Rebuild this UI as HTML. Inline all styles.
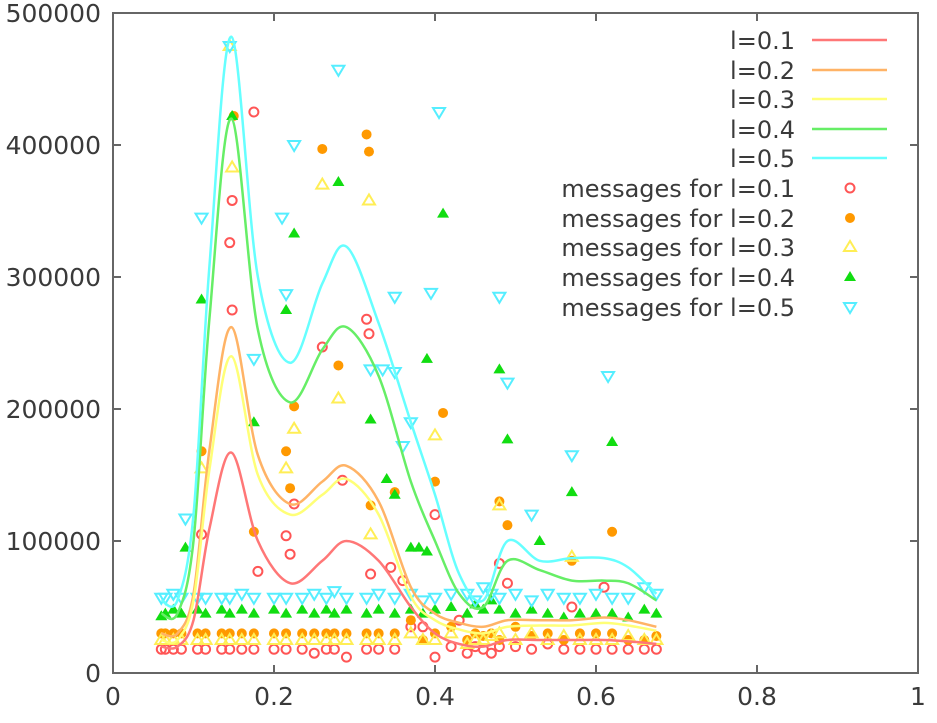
<!DOCTYPE html>
<html><head><meta charset="utf-8"><style>
body{margin:0;background:#fff}
svg{display:block;font-family:"DejaVu Sans","Liberation Sans",sans-serif}
</style></head><body>
<svg id="chart" width="937" height="723" viewBox="0 0 937 723"></svg>
<script>
const xTicks=[0,0.2,0.4,0.6,0.8,1];
const xTickLabels=["0","0.2","0.4","0.6","0.8","1"];
const yTicks=[0,100000,200000,300000,400000,500000];
const yTickLabels=["0","100000","200000","300000","400000","500000"];
const seriesNames=["l=0.1","l=0.2","l=0.3","l=0.4","l=0.5"];
const curveX=[0.06,0.08,0.1,0.12,0.147,0.18,0.22,0.26,0.29,0.33,0.37,0.4,0.43,0.46,0.49,0.53,0.57,0.61,0.64,0.675];
const curve1=[20000,20000,40000,110000,167000,100000,68000,85000,100000,85000,50000,30000,22000,20000,25000,25000,25000,25000,24000,22000];
const curve2=[30000,30000,60000,170000,262000,165000,128000,145000,157000,130000,65000,45000,38000,35000,40000,40000,40000,42000,40000,35000];
const curve3=[25000,25000,55000,155000,240000,150000,120000,135000,147000,120000,58000,40000,33000,30000,35000,36000,36000,38000,36000,32000];
const curve4=[45000,45000,100000,270000,420000,260000,205000,245000,262000,225000,145000,100000,60000,50000,85000,78000,70000,70000,68000,55000];
const curve5=[55000,55000,120000,310000,482000,300000,235000,295000,323000,265000,190000,135000,75000,55000,100000,85000,87000,87000,80000,60000];
const baseX=[0.06,0.065,0.075,0.085,0.105,0.115,0.135,0.145,0.16,0.175,0.2,0.215,0.235,0.25,0.265,0.275,0.29,0.315,0.33,0.35,0.37,0.385,0.4,0.42,0.44,0.45,0.46,0.47,0.48,0.5,0.52,0.54,0.56,0.58,0.6,0.62,0.64,0.66,0.675];
const base1=[18000,18000,18000,18000,18000,18000,18000,18000,18000,18000,18000,18000,18000,15000,18000,18000,12000,18000,18000,18000,35000,35000,12000,20000,15000,20000,18000,15000,20000,20000,18000,22000,18000,18000,18000,18000,18000,18000,18000];
const base2=[30000,30000,30000,30000,30000,30000,30000,30000,30000,30000,30000,30000,30000,30000,30000,30000,30000,30000,30000,30000,40000,25000,30000,35000,25000,30000,28000,30000,25000,35000,28000,30000,25000,30000,30000,30000,25000,25000,28000];
const base3=[25000,25000,25000,25000,25000,25000,25000,25000,25000,25000,25000,25000,25000,25000,25000,25000,25000,25000,25000,25000,30000,25000,25000,30000,22000,25000,25000,28000,30000,25000,30000,25000,28000,25000,25000,25000,28000,25000,25000];
const base4=[43000,45000,48000,45000,48000,45000,48000,45000,48000,45000,48000,45000,48000,45000,48000,45000,48000,45000,48000,45000,48000,45000,48000,50000,45000,52000,48000,55000,48000,45000,48000,45000,42000,45000,45000,45000,42000,48000,45000];
const base5=[57000,57000,60000,57000,57000,57000,57000,57000,60000,57000,57000,57000,57000,60000,57000,62000,57000,57000,60000,57000,60000,55000,57000,60000,60000,55000,65000,60000,57000,60000,55000,60000,57000,57000,60000,57000,57000,65000,60000];
const outX1=[0.11,0.145,0.148,0.148,0.175,0.18,0.215,0.22,0.225,0.26,0.285,0.315,0.318,0.32,0.345,0.36,0.4,0.43,0.48,0.49,0.57,0.61];
const outY1=[105000,326000,358000,275000,425000,77000,104000,90000,128000,247000,146000,268000,257000,75000,80000,70000,120000,40000,83000,68000,50000,65000];
const outX2=[0.11,0.15,0.175,0.215,0.22,0.225,0.26,0.28,0.315,0.318,0.32,0.35,0.4,0.41,0.48,0.49,0.57,0.62];
const outY2=[168000,422000,107000,168000,140000,202000,397000,233000,408000,395000,127000,137000,145000,197000,130000,112000,85000,107000];
const outX3=[0.11,0.145,0.148,0.215,0.225,0.26,0.28,0.318,0.32,0.4,0.48,0.57];
const outY3=[155000,475000,383000,155000,185000,370000,208000,358000,105000,180000,127000,88000];
const outX4=[0.09,0.11,0.148,0.175,0.215,0.225,0.28,0.32,0.34,0.35,0.37,0.38,0.39,0.39,0.41,0.48,0.49,0.53,0.57,0.62];
const outY4=[95000,283000,422000,190000,275000,333000,372000,192000,147000,135000,95000,95000,92000,238000,348000,230000,177000,100000,137000,175000];
const outX5=[0.09,0.11,0.145,0.175,0.21,0.215,0.225,0.28,0.32,0.335,0.35,0.35,0.36,0.37,0.395,0.405,0.48,0.49,0.52,0.57,0.615];
const outY5=[117000,345000,475000,238000,345000,287000,400000,457000,230000,230000,285000,228000,172000,190000,288000,425000,285000,220000,120000,165000,225000];

const NS="http://www.w3.org/2000/svg";
const svg=document.getElementById('chart');
const L=113,R=918,T=13,B=673;
const sx=v=>L+v*(R-L);
const sy=v=>B-v/500000*(B-T);
function mk(t,a,p){const e=document.createElementNS(NS,t);for(const k in a)e.setAttribute(k,a[k]);(p||svg).appendChild(e);return e;}
const axisCol="#666";
const txtCol="#3a3a3a";
const frame=mk('rect',{x:L,y:T,width:R-L,height:B-T,fill:'none',stroke:axisCol,'stroke-width':2});


xTicks.forEach((v,i)=>{
  const x=sx(v);
  const t1=mk('line',{x1:x,y1:B,x2:x,y2:B-8,stroke:axisCol,'stroke-width':2});
  
  
  const t2=mk('line',{x1:x,y1:T,x2:x,y2:T+8,stroke:axisCol,'stroke-width':2});
  
  
  const tx=mk('text',{x:x,y:705,'text-anchor':'middle','font-size':25,fill:txtCol});
  tx.textContent=xTickLabels[i];
  
  
});
yTicks.forEach((v,i)=>{
  const y=sy(v);
  const t1=mk('line',{x1:L,y1:y,x2:L+8,y2:y,stroke:axisCol,'stroke-width':2});
  
  
  const t2=mk('line',{x1:R,y1:y,x2:R-8,y2:y,stroke:axisCol,'stroke-width':2});
  
  
  const tx=mk('text',{x:101,y:y+9,'text-anchor':'end','font-size':25,fill:txtCol});
  tx.textContent=yTickLabels[i];
  
  
});
const lineCols=["#ff7777","#ffb366","#ffff77","#66ee66","#66ffff"];
const markCols=["#ff5555","#ff9900","#ffee55","#11dd11","#55eeff"];
const curves=[curve1,curve2,curve3,curve4,curve5];
const bases=[base1,base2,base3,base4,base5];
const outXs=[outX1,outX2,outX3,outX4,outX5];
const outYs=[outY1,outY2,outY3,outY4,outY5];
function spline(pts){
  let d=`M${pts[0][0]},${pts[0][1]}`;
  for(let i=0;i<pts.length-1;i++){
    const p0=pts[Math.max(0,i-1)],p1=pts[i],p2=pts[i+1],p3=pts[Math.min(pts.length-1,i+2)];
    const c1=[p1[0]+(p2[0]-p0[0])/6,p1[1]+(p2[1]-p0[1])/6];
    const c2=[p2[0]-(p3[0]-p1[0])/6,p2[1]-(p3[1]-p1[1])/6];
    d+=` C${c1[0]},${c1[1]} ${c2[0]},${c2[1]} ${p2[0]},${p2[1]}`;
  }
  return d;
}
function marker(k,x,y,g){
  let e;
  if(k===0) e=mk('circle',{cx:x,cy:y,r:4.5,fill:'none',stroke:markCols[0],'stroke-width':2},g);
  else if(k===1) e=mk('circle',{cx:x,cy:y,r:5,fill:markCols[1]},g);
  else if(k===2) e=mk('polygon',{points:`${x},${y-6} ${x-6},${y+4} ${x+6},${y+4}`,fill:'none',stroke:markCols[2],'stroke-width':2},g);
  else if(k===3) e=mk('polygon',{points:`${x},${y-6} ${x-6},${y+4} ${x+6},${y+4}`,fill:markCols[3]},g);
  else e=mk('polygon',{points:`${x},${y+6} ${x-6},${y-4} ${x+6},${y-4}`,fill:'none',stroke:markCols[4],'stroke-width':2},g);
  return e;
}
for(let k=0;k<5;k++){
  const g=mk('g',{});
  
  
  baseX.forEach((v,i)=>{
    const m=marker(k,sx(v),sy(bases[k][i]),g);
    
    
  });
  outXs[k].forEach((v,i)=>{
    const m=marker(k,sx(v),sy(outYs[k][i]),g);
    
    
  });
}
for(let k=0;k<5;k++){
  const pts=curveX.map((v,i)=>[sx(v),sy(curves[k][i])]);
  const p=mk('path',{d:spline(pts),fill:'none',stroke:lineCols[k],'stroke-width':2.5});
  
  
}
const lg=mk('g',{});


const rowY=[40,70,99,129,158,188,218,247,277,307];
for(let k=0;k<5;k++){
  const t=mk('text',{x:795,y:rowY[k]+9,'text-anchor':'end','font-size':24,fill:txtCol},lg);
  t.textContent=seriesNames[k];
  
  
  const l=mk('line',{x1:812,y1:rowY[k],x2:887,y2:rowY[k],stroke:lineCols[k],'stroke-width':2.5},lg);
  
  
}
for(let k=0;k<5;k++){
  const y=rowY[k+5];
  const t=mk('text',{x:795,y:y+9,'text-anchor':'end','font-size':24,fill:txtCol},lg);
  t.textContent='messages for '+seriesNames[k];
  
  
  const m=marker(k,850,y,lg);
  
  
}
</script>
</body></html>
